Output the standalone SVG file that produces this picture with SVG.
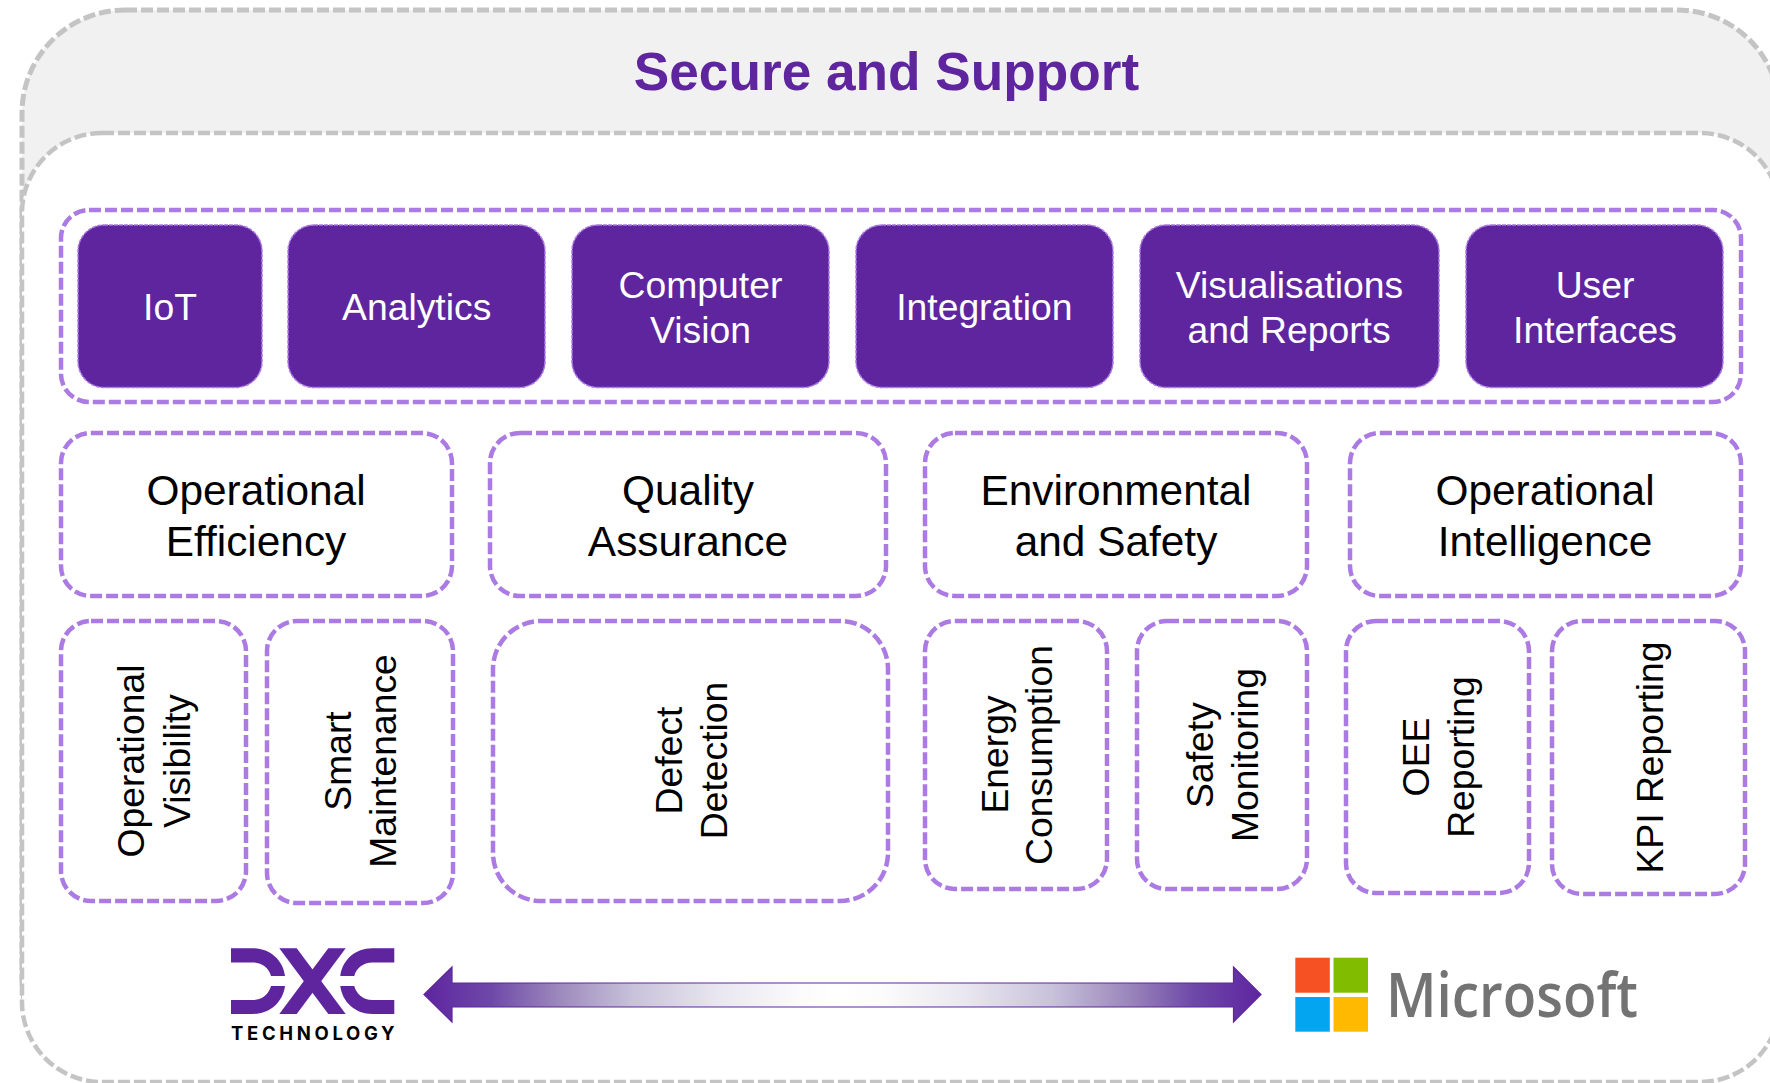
<svg xmlns="http://www.w3.org/2000/svg" width="1770" height="1083" viewBox="0 0 1770 1083">
<style>
text{font-family:"Liberation Sans",Arial,sans-serif;text-anchor:middle}
.frame{stroke:#C4C4C4;stroke-width:5;stroke-dasharray:12 4}
.dash{fill:#fff;stroke:#AB7BE3;stroke-width:4.500;stroke-dasharray:12 4}
.cap{fill:#5E259F;stroke:#AB7BE3;stroke-width:1.500;stroke-dasharray:4 1}
.w{font-size:37.300px;fill:#fff}
.h{font-size:42.400px;fill:#000}
.v{font-size:37.300px;fill:#000}
.p{fill:#5E259F}
</style>
<defs>
<linearGradient id="g" x1="0" x2="1" y1="0" y2="0">
<stop offset="0" stop-color="#5E259F"/><stop offset="0.08" stop-color="#6E48A8"/><stop offset="0.16" stop-color="#9C88BC"/><stop offset="0.25" stop-color="#C8C2DA"/><stop offset="0.35" stop-color="#E8E6F0"/><stop offset="0.45" stop-color="#FBFBFC"/><stop offset="0.5" stop-color="#fff"/><stop offset="0.55" stop-color="#FBFBFC"/><stop offset="0.65" stop-color="#E8E6F0"/><stop offset="0.75" stop-color="#C8C2DA"/><stop offset="0.84" stop-color="#9C88BC"/><stop offset="0.92" stop-color="#6E48A8"/><stop offset="1" stop-color="#5E259F"/>
</linearGradient>
</defs>
<rect width="1770" height="1083" fill="#fff"/>
<g id="secure-support">
<rect class="frame" x="22" y="10" width="1758" height="1072" rx="103" ry="103" fill="#F1F1F1"/>
<rect class="frame" x="22" y="133" width="1758" height="949" rx="80" ry="80" fill="#fff" style="stroke-width:4.500"/>
<text x="886.500" y="90" font-size="53.200" font-weight="700" fill="#5E259F">Secure and Support</text>
</g>
<g id="capabilities"><rect class="dash" x="61" y="210" width="1680" height="192" rx="28"/></g>
<g id="iot"><rect class="cap" x="78" y="225" width="184" height="162.500" rx="26"/><text class="w" x="170" y="320">IoT</text></g>
<g id="analytics"><rect class="cap" x="288" y="225" width="257" height="162.500" rx="26"/><text class="w" x="416.700" y="320">Analytics</text></g>
<g id="computer-vision"><rect class="cap" x="572" y="225" width="257" height="162.500" rx="26"/><text class="w" x="700.500" y="298">Computer</text><text class="w" x="700.500" y="343">Vision</text></g>
<g id="integration"><rect class="cap" x="856" y="225" width="257" height="162.500" rx="26"/><text class="w" x="984.300" y="320">Integration</text></g>
<g id="visualisations"><rect class="cap" x="1140" y="225" width="299" height="162.500" rx="26"/><text class="w" x="1289.500" y="298">Visualisations</text><text class="w" x="1289" y="343">and Reports</text></g>
<g id="user-interfaces"><rect class="cap" x="1466" y="225" width="257" height="162.500" rx="26"/><text class="w" x="1595" y="298">User</text><text class="w" x="1595" y="343">Interfaces</text></g>

<g id="operational-efficiency"><rect class="dash" x="61" y="433" width="391" height="163" rx="30"/><text class="h" x="256" y="505">Operational</text><text class="h" x="256" y="556">Efficiency</text></g>
<g id="quality-assurance"><rect class="dash" x="490" y="433" width="396" height="163" rx="30"/><text class="h" x="688" y="505">Quality</text><text class="h" x="688" y="556">Assurance</text></g>
<g id="environmental-safety"><rect class="dash" x="925" y="433" width="382" height="163" rx="30"/><text class="h" x="1116" y="505">Environmental</text><text class="h" x="1116" y="556">and Safety</text></g>
<g id="operational-intelligence"><rect class="dash" x="1350" y="433" width="391" height="163" rx="30"/><text class="h" x="1545" y="505">Operational</text><text class="h" x="1545" y="556">Intelligence</text></g>

<g id="operational-visibility"><rect class="dash" x="61" y="621" width="185" height="280" rx="30"/><text class="v" transform="translate(144 761) rotate(-90)">Operational</text><text class="v" transform="translate(189.500 761) rotate(-90)">Visibility</text></g>
<g id="smart-maintenance"><rect class="dash" x="267" y="621" width="186" height="282" rx="30"/><text class="v" transform="translate(351 761) rotate(-90)">Smart</text><text class="v" transform="translate(396 761) rotate(-90)">Maintenance</text></g>
<g id="defect-detection"><rect class="dash" x="493" y="621" width="395" height="280" rx="48"/><text class="v" transform="translate(681.500 760.500) rotate(-90)">Defect</text><text class="v" transform="translate(726.500 760.500) rotate(-90)">Detection</text></g>
<g id="energy-consumption"><rect class="dash" x="925" y="621" width="182" height="268" rx="30"/><text class="v" transform="translate(1007.500 754.500) rotate(-90)">Energy</text><text class="v" transform="translate(1052 755) rotate(-90)">Consumption</text></g>
<g id="safety-monitoring"><rect class="dash" x="1137" y="621" width="170" height="268" rx="30"/><text class="v" transform="translate(1213 755) rotate(-90)">Safety</text><text class="v" transform="translate(1258 755) rotate(-90)">Monitoring</text></g>
<g id="oee-reporting"><rect class="dash" x="1346" y="621" width="183" height="272" rx="30"/><text class="v" transform="translate(1428.500 757) rotate(-90)">OEE</text><text class="v" transform="translate(1473.500 757) rotate(-90)">Reporting</text></g>
<g id="kpi-reporting"><rect class="dash" x="1552" y="621" width="193" height="273" rx="30"/><text class="v" transform="translate(1662.500 757.500) rotate(-90)">KPI Reporting</text></g>

<g id="connectors">
<path d="M424 994.500 L452 967 V983 H1233.500 V967 L1261 994.500 L1233.500 1022 V1007 H452 V1022 Z" fill="url(#g)" stroke="#5E259F" stroke-width="1.200" stroke-linejoin="miter"/>
</g>

<g id="dxc-logo">
<path class="p" d="M231 948.300 H253 C270 948.300 283 960 285 976 H271 C269 968 262 962.500 253 962.500 H231 Z"/>
<path class="p" d="M231 1014 H253 C270 1014 283 1002 285 986 H271 C269 994 262 1000 253 1000 H231 Z"/>
<path class="p" d="M279.300 948.300 H296.700 L345.700 1014 H328.300 Z"/>
<path class="p" d="M328.300 948.300 H345.700 L296.700 1014 H279.300 Z"/>
<path class="p" d="M394.300 948.300 H372.300 C355.300 948.300 342.300 960 340.300 976 H354.300 C356.300 968 363.300 962.500 372.300 962.500 H394.300 Z"/>
<path class="p" d="M394.300 1014 H372.300 C355.300 1014 342.300 1002 340.300 986 H354.300 C356.300 994 363.300 1000 372.300 1000 H394.300 Z"/>
<text x="231" y="1039.500" font-size="18.500" font-weight="700" fill="#000" textLength="163.500" style="font-family:Inter,'Liberation Sans',sans-serif;text-anchor:start">TECHNOLOGY</text>
</g>

<g id="microsoft-logo">
<rect x="1295.300" y="957.700" width="34.500" height="35" fill="#F65123"/>
<rect x="1333.500" y="957.700" width="34.500" height="35" fill="#81BC00"/>
<rect x="1295.300" y="997" width="34.500" height="34.700" fill="#03A5F0"/>
<rect x="1333.500" y="997" width="34.500" height="34.700" fill="#FFB900"/>
<text x="1386" y="1017.300" font-size="62" font-weight="600" fill="#737373" textLength="252" lengthAdjust="spacingAndGlyphs" style="font-family:'Open Sans','Noto Sans',sans-serif;text-anchor:start">Microsoft</text>
</g>
</svg>
